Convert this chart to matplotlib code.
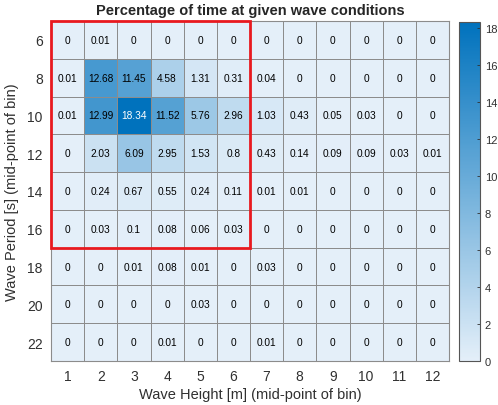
import numpy as np
import matplotlib
matplotlib.use("Agg")
import matplotlib.pyplot as plt
from matplotlib.colors import LinearSegmentedColormap
from matplotlib.patches import Rectangle

plt.rcParams['font.family'] = ['Liberation Sans', 'DejaVu Sans']

wave_heights = [1, 2, 3, 4, 5, 6, 7, 8, 9, 10, 11, 12]
wave_periods = [6, 8, 10, 12, 14, 16, 18, 20, 22]

p06 = [0, 0.01, 0, 0, 0, 0, 0, 0, 0, 0, 0, 0]
p08 = [0.01, 12.68, 11.45, 4.58, 1.31, 0.31, 0.04, 0, 0, 0, 0, 0]
p10 = [0.01, 12.99, 18.34, 11.52, 5.76, 2.96, 1.03, 0.43, 0.05, 0.03, 0, 0]
p12 = [0, 2.03, 6.09, 2.95, 1.53, 0.8, 0.43, 0.14, 0.09, 0.09, 0.03, 0.01]
p14 = [0, 0.24, 0.67, 0.55, 0.24, 0.11, 0.01, 0.01, 0, 0, 0, 0]
p16 = [0, 0.03, 0.1, 0.08, 0.06, 0.03, 0, 0, 0, 0, 0, 0]
p18 = [0, 0, 0.01, 0.08, 0.01, 0, 0.03, 0, 0, 0, 0, 0]
p20 = [0, 0, 0, 0, 0.03, 0, 0, 0, 0, 0, 0, 0]
p22 = [0, 0, 0, 0.01, 0, 0, 0.01, 0, 0, 0, 0, 0]

# highlighted block: heights 1-6, periods 6-16
box_heights = (1, 6)
box_periods = (6, 16)

values = np.array([p06, p08, p10, p12, p14, p16, p18, p20, p22])

cmap = LinearSegmentedColormap.from_list(
    "blues", [(0.894, 0.937, 0.976), (0.0, 0.447, 0.741)])

fig = plt.figure(figsize=(4.98, 4.06), dpi=100)
ax = fig.add_axes([51/498, 1 - 362/406, 398/498, 340/406])
cax = fig.add_axes([459/498, 1 - 362/406, 21/498, 339/406])

vmax = values.max()
mesh = ax.pcolormesh(np.arange(len(wave_heights) + 1), np.arange(len(wave_periods) + 1),
                     values, cmap=cmap, vmin=0, vmax=vmax,
                     edgecolor='#8c8c8c', linewidth=0.6)
ax.set_xlim(0, len(wave_heights))
ax.set_ylim(len(wave_periods), 0)

for i in range(len(wave_periods)):
    for j in range(len(wave_heights)):
        v = values[i, j]
        color = 'white' if v > 0.8 * vmax else 'black'
        ax.text(j + 0.5, i + 0.5, f"{v:g}", ha='center', va='center',
                fontsize=7.3, color=color)

ax.set_xticks(np.arange(len(wave_heights)) + 0.5)
ax.set_xticklabels([str(h) for h in wave_heights], fontsize=10, color='#303030')
ax.set_yticks(np.arange(len(wave_periods)) + 0.5)
ax.set_yticklabels([str(p) for p in wave_periods], fontsize=10, color='#303030')
ax.tick_params(length=0, pad=6)
for s in ax.spines.values():
    s.set_color('#8c8c8c')
    s.set_linewidth(0.8)

ax.set_xlabel("Wave Height [m] (mid-point of bin)", fontsize=10.5, color='#303030', labelpad=3)
ax.set_ylabel("Wave Period [s] (mid-point of bin)", fontsize=10.5, color='#303030', labelpad=6)
ax.set_title("Percentage of time at given wave conditions", fontsize=10.5,
             fontweight='bold', color='#262626', pad=5)

# red outline around the highlighted block
x0 = wave_heights.index(box_heights[0])
x1 = wave_heights.index(box_heights[1]) + 1
y0 = wave_periods.index(box_periods[0])
y1 = wave_periods.index(box_periods[1]) + 1
ax.add_patch(Rectangle((x0, y0), x1 - x0, y1 - y0, fill=False,
                       edgecolor='#e8191f', linewidth=2.0, clip_on=False, zorder=5))

cb = fig.colorbar(mesh, cax=cax)
cb.set_ticks(np.arange(0, 19, 2))
cb.ax.tick_params(labelsize=8, direction='in', length=2.5, colors='#303030', width=0.6)
cb.outline.set_edgecolor('#555555')
cb.outline.set_linewidth(0.8)

fig.savefig("out.png", dpi=100)
